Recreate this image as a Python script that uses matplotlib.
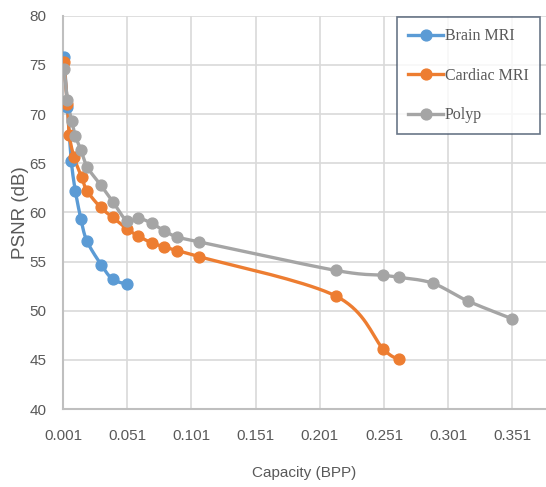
import matplotlib
matplotlib.use("Agg")

import numpy as np
import matplotlib.pyplot as plt
from matplotlib.lines import Line2D

# data
brain_x = [0.0018, 0.0044, 0.0075, 0.0106, 0.015, 0.0196, 0.0306, 0.0397, 0.051]
brain_y = [75.8, 70.7, 65.2, 62.2, 59.3, 57.1, 54.7, 53.2, 52.7]

cardiac_x = [0.0018, 0.0044, 0.0059, 0.0096, 0.0155, 0.0197, 0.0303, 0.0397, 0.051,
             0.0596, 0.0701, 0.080, 0.090, 0.107, 0.2134, 0.2505, 0.2627]
cardiac_y = [75.3, 71.0, 67.9, 65.6, 63.6, 62.2, 60.5, 59.5, 58.3,
             57.6, 56.9, 56.5, 56.1, 55.5, 51.5, 46.1, 45.1]

polyp_x = [0.0018, 0.0044, 0.0078, 0.0106, 0.015, 0.0199, 0.0303, 0.0397, 0.051,
           0.0596, 0.070, 0.080, 0.090, 0.107, 0.2134, 0.2505, 0.2627, 0.2889,
           0.3161, 0.3504]
polyp_y = [74.6, 71.4, 69.3, 67.8, 66.3, 64.6, 62.8, 61.1, 59.1,
           59.4, 58.9, 58.1, 57.5, 57.0, 54.1, 53.6, 53.4, 52.8,
           51.0, 49.2]

names = ["Brain MRI", "Cardiac MRI", "Polyp"]
colors = ["#5B9BD5", "#ED7D31", "#A5A5A5"]
xticks = [0.001, 0.051, 0.101, 0.151, 0.201, 0.251, 0.301, 0.351]
yticks = [40, 45, 50, 55, 60, 65, 70, 75, 80]


def smooth(xs, ys, n=20):
    # Catmull-Rom style smoothing like Excel's "smoothed line"
    p = np.column_stack([xs, ys]).astype(float)
    # normalise so both axes weigh the same
    sx, sy = 0.376, 40.0
    p = p / [sx, sy]
    pts = [p[0]]
    for i in range(len(p) - 1):
        p0 = p[i - 1] if i > 0 else p[i]
        p1, p2 = p[i], p[i + 1]
        p3 = p[i + 2] if i + 2 < len(p) else p[i + 1]
        c1 = p1 + (p2 - p0) / 6
        c2 = p2 - (p3 - p1) / 6
        t = np.linspace(0, 1, n)[1:, None]
        seg = ((1 - t) ** 3 * p1 + 3 * (1 - t) ** 2 * t * c1
               + 3 * (1 - t) * t ** 2 * c2 + t ** 3 * p2)
        pts.extend(seg)
    pts = np.array(pts) * [sx, sy]
    return pts[:, 0], pts[:, 1]


plt.rcParams['font.family'] = ['Liberation Sans', 'DejaVu Sans']

fig = plt.figure(figsize=(5.46, 4.87), dpi=100)
ax = fig.add_axes([0.1154, 0.160, 0.8846, 0.8078])

series = [(brain_x, brain_y), (cardiac_x, cardiac_y), (polyp_x, polyp_y)]
for (xs, ys), c in zip(series, colors):
    lx, ly = smooth(xs, ys)
    ax.plot(lx, ly, color=c, lw=2.4, solid_capstyle='round', zorder=3)
    ax.plot(xs, ys, 'o', color=c, ms=7.8, zorder=4)

ax.set_xlim(0.001, 0.001 + (546 - 63) / 1284)
ax.set_ylim(40, 80)
ax.set_xticks(xticks)
ax.set_xticklabels(["%.3f" % v for v in xticks])
ax.set_yticks(yticks)

ax.grid(True, color="#D9D9D9", lw=1.2)
ax.set_axisbelow(True)
for s in ["top", "right"]:
    ax.spines[s].set_visible(False)
for s in ["left", "bottom"]:
    ax.spines[s].set_color("#BFBFBF")
    ax.spines[s].set_linewidth(1.5)
ax.tick_params(length=0, labelsize=11, labelcolor="#595959")
ax.tick_params(axis='y', pad=12)
ax.tick_params(axis='x', pad=14)

ax.set_xlabel("Capacity (BPP)", fontsize=11, color="#595959", labelpad=17)
ax.set_ylabel("PSNR (dB)", fontsize=13.5, color="#595959", labelpad=0)

handles = [Line2D([], [], color=c, lw=2.4, marker='o', ms=7.8) for c in colors]
leg = ax.legend(handles, names, loc="upper left", bbox_to_anchor=(0.6915, 0.9967),
                borderaxespad=0, frameon=True, fancybox=False,
                handlelength=2.2, handletextpad=0.1,
                labelspacing=1.47, borderpad=0.7,
                prop={'family': 'Liberation Serif', 'size': 11.5})
leg.get_frame().set_edgecolor("#44546A")
leg.get_frame().set_linewidth(1.2)
for t in leg.get_texts():
    t.set_color("#595959")

fig.savefig("out.png", dpi=100)
